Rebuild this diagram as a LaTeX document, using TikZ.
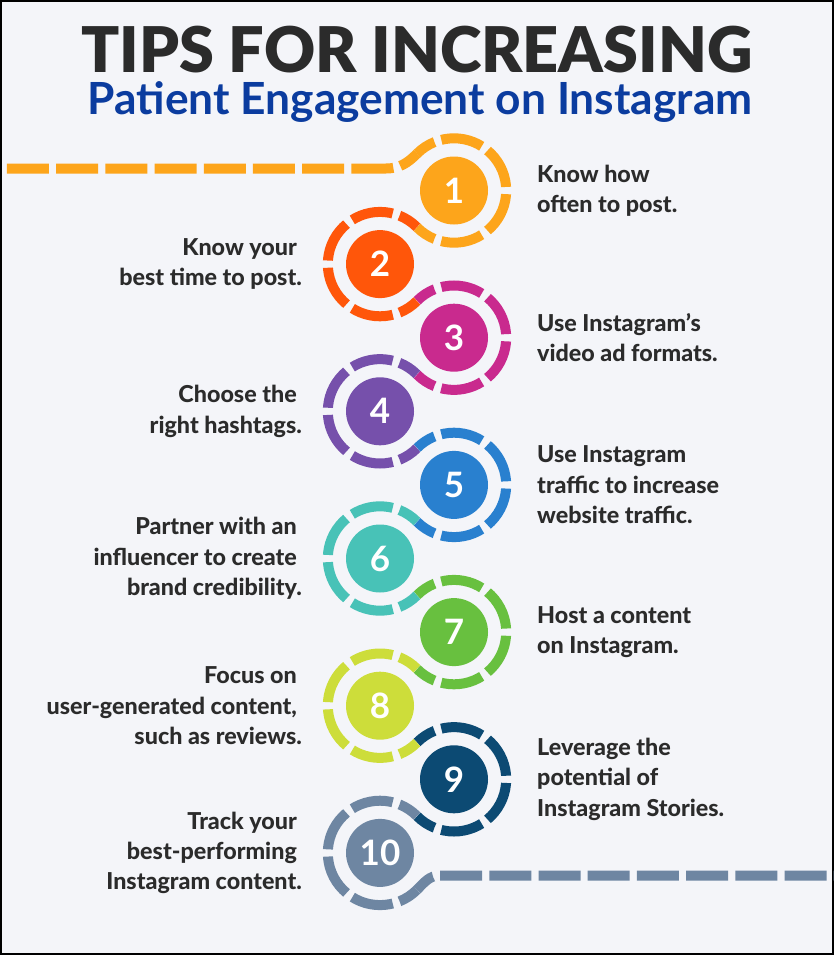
\documentclass[tikz,border=0pt]{standalone}
\usepackage{fontspec}
\setmainfont{Lato}
\newfontfamily\blackfont{Lato Black}
\newfontfamily\heavyfont{Lato Heavy}
\usetikzlibrary{calc}
\definecolor{bg}{HTML}{F4F5F9}
\definecolor{txt}{HTML}{2B2B2B}
\definecolor{subblue}{HTML}{0B3C9F}
\definecolor{cA}{HTML}{FDA51B}
\definecolor{cB}{HTML}{FF560A}
\definecolor{cC}{HTML}{C92A8E}
\definecolor{cD}{HTML}{7650AB}
\definecolor{cE}{HTML}{2980CF}
\definecolor{cF}{HTML}{48C2B7}
\definecolor{cG}{HTML}{68C03F}
\definecolor{cH}{HTML}{CDDD3A}
\definecolor{cI}{HTML}{0C4A73}
\definecolor{cJ}{HTML}{6E86A2}
\begin{document}
\begin{tikzpicture}[x=1pt,y=1pt,
  ring/.style={line width=10pt, dash pattern=on 42pt off 7.2pt, dash phase=21pt},
  disk/.style={circle, minimum size=68pt, inner sep=0pt, text=white, font=\bfseries\fontsize{35}{35}\selectfont},
  lbl/.style={text=txt, font=\heavyfont\fontsize{23.3}{30.3}\selectfont, inner sep=0pt},
  rlbl/.style={lbl, anchor=west, align=left},
  llbl/.style={lbl, anchor=east, align=right}]
\fill[bg] (0,0) rectangle (834,-955);
\useasboundingbox (0,0) rectangle (834,-955);
\draw[black, line width=2pt] (1,-1) rectangle (833,-954);

\node[font=\blackfont\fontsize{63}{63}\selectfont, text=txt, anchor=base, inner sep=0pt] (title) at (417,-73) {TIPS FOR INCREASING};
\node[font=\bfseries\fontsize{44.3}{44.3}\selectfont, text=subblue, anchor=base, inner sep=0pt] (sub) at (420,-115) {Patient Engagement on Instagram};

\foreach \i/\c in {1/cA,2/cB,3/cC,4/cD,5/cE,6/cF,7/cG,8/cH,9/cI,10/cJ} {
  \pgfmathsetmacro\xx{isodd(\i) ? 454 : 380}
  \pgfmathsetmacro\yy{-190.5-73.6*(\i-1)}
  \node[disk, fill=\c] (n\i) at (\xx,\yy) {\i};
}
\foreach \i/\c in {1/cA,3/cC,5/cE,7/cG,9/cI}
  \draw[ring,\c] ([shift={(135:52.2)}]n\i.center) arc[start angle=135,end angle=-135,radius=52.2];
\foreach \i/\c in {2/cB,4/cD,6/cF,8/cH,10/cJ}
  \draw[ring,\c] ([shift={(45:52.2)}]n\i.center) arc[start angle=45,end angle=315,radius=52.2];

\coordinate (s0) at (0,-168.5);
\coordinate (s1) at (386,-168.5);
\coordinate (e1) at (440,-875.5);
\coordinate (e0) at (834,-875.5);
\draw[ring,cA] ([shift={(135:52.2)}]n1.center) to[out=225,in=0] (s1) -- (s0);
\draw[ring,cJ] ([shift={(-45:52.2)}]n10.center) to[out=45,in=180] (e1) -- (e0);

\node[rlbl] (t1) at ([xshift=83pt]n1.center) {Know how\\often to post.};
\node[llbl] (t2) at ([xshift=-78pt]n2.center) {Know your\kern5pt\\best time to post.};
\node[rlbl] (t3) at ([xshift=83pt]n3.center) {Use Instagram’s\\video ad formats.};
\node[llbl] (t4) at ([xshift=-78pt]n4.center) {Choose the\kern5pt\\right hashtags.};
\node[rlbl] (t5) at ([xshift=83pt]n5.center) {Use Instagram\\traffic to increase\\website traffic.};
\node[llbl] (t6) at ([xshift=-78pt]n6.center) {Partner with an\kern5pt\\influencer to create\kern5pt\\brand credibility.};
\node[rlbl] (t7) at ([xshift=83pt]n7.center) {Host a content\\on Instagram.};
\node[llbl] (t8) at ([xshift=-78pt]n8.center) {Focus on\kern5pt\\user-generated content,\kern5pt\\such as reviews.};
\node[rlbl] (t9) at ([xshift=83pt]n9.center) {Leverage the\\potential of\\Instagram Stories.};
\node[llbl] (t10) at ([xshift=-78pt]n10.center) {Track your\kern5pt\\best-performing\kern5pt\\Instagram content.};
\end{tikzpicture}
\end{document}
